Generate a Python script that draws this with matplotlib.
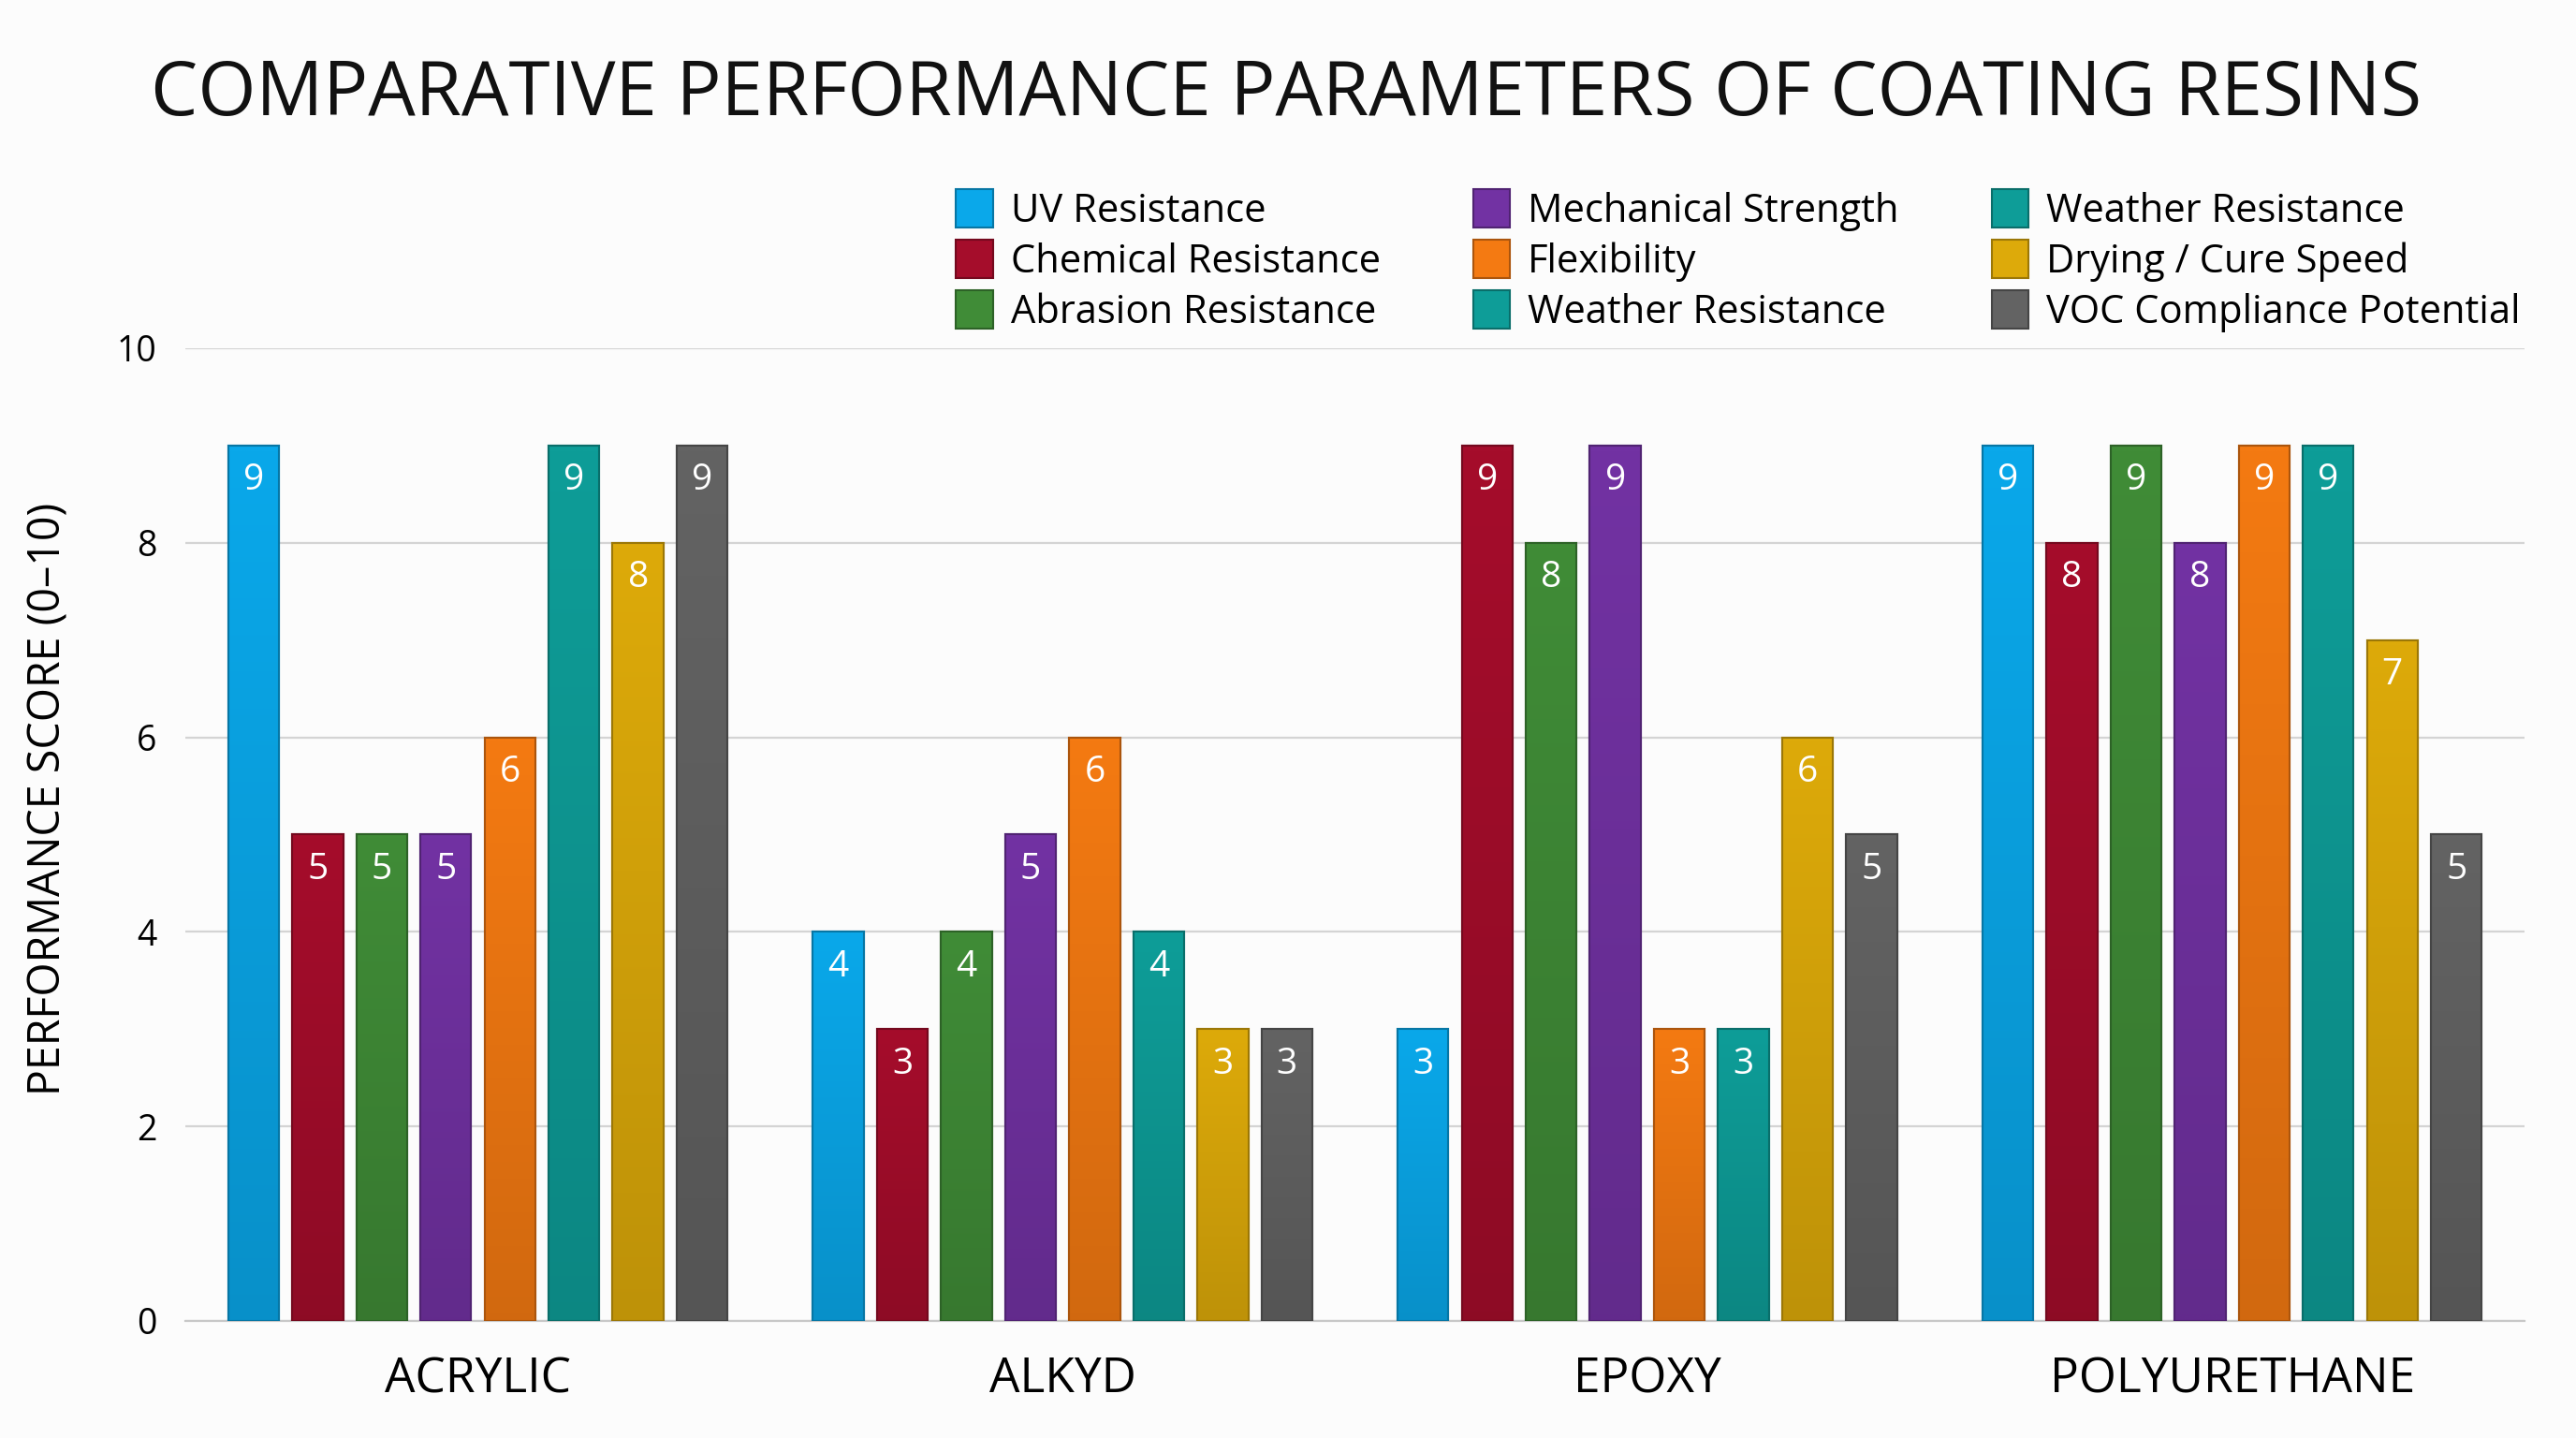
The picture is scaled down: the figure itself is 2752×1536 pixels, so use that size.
import matplotlib
matplotlib.use("Agg")
import matplotlib.pyplot as plt
import matplotlib.colors as mcolors
import numpy as np

plt.rcParams['font.family'] = ['Open Sans', 'DejaVu Sans']

# data
resins = ["ACRYLIC", "ALKYD", "EPOXY", "POLYURETHANE"]
params = ["UV Resistance", "Chemical Resistance", "Abrasion Resistance",
          "Mechanical Strength", "Flexibility", "Weather Resistance",
          "Drying / Cure Speed", "VOC Compliance Potential"]
uv = [9, 4, 3, 9]
chemical = [5, 3, 9, 8]
abrasion = [5, 4, 8, 9]
mechanical = [5, 5, 9, 8]
flexibility = [6, 6, 3, 9]
weather = [9, 4, 3, 9]
drying = [8, 3, 6, 7]
voc = [9, 3, 5, 5]
series = [uv, chemical, abrasion, mechanical, flexibility, weather, drying, voc]
yticks = [0, 2, 4, 6, 8, 10]

colors = ["#0aa8ea", "#a50d2b", "#408c37", "#7232a3",
          "#f47a12", "#0e9d98", "#ddaa0a", "#636363"]

fig = plt.figure(figsize=(27.52, 15.36), dpi=100)
fig.patch.set_facecolor("#fcfcfc")
ax = fig.add_axes([0.072, 0.0814, 0.908, 0.6765])
ax.set_facecolor("#fcfcfc")

x = np.arange(len(resins))
step = 0.1096
width = 0.087
handles = []
for i, (vals, c) in enumerate(zip(series, colors)):
    rgb = np.array(mcolors.to_rgb(c))
    edge = rgb * 0.7
    pos = x + (i - 3.5) * step
    b = ax.bar(pos, vals, width, color=c, edgecolor=edge, linewidth=1.5,
               label=params[i], zorder=3)
    handles.append(b)
    # soft vertical shading, lighter on top
    grad = np.linspace(1.0, 0.86, 64)[:, None, None] * rgb[None, None, :]
    for rect in b.patches:
        x0, y0 = rect.get_x(), rect.get_y()
        w, h = rect.get_width(), rect.get_height()
        im = ax.imshow(grad, extent=[x0, x0 + w, y0, y0 + h], aspect="auto",
                       origin="upper", zorder=3.2, interpolation="bilinear")
        im.set_clip_path(rect)
    ax.bar(pos, vals, width, color="none", edgecolor=edge, linewidth=1.5,
           zorder=3.4)
    for px, v in zip(pos, vals):
        ax.text(px, v - 0.36, str(v), ha="center", va="center",
                color="white", fontsize=28, zorder=4)

ax.set_xlim(-0.5, 3.5)
ax.set_ylim(0, 10)
ax.set_yticks(yticks)
ax.set_xticks(x)
ax.set_xticklabels(resins, fontsize=37)
ax.tick_params(axis="y", labelsize=27, length=0, pad=22)
ax.tick_params(axis="x", length=0, pad=27)
ax.grid(axis="y", color="#d4d4d4", linewidth=1.6, zorder=0)
for s in ["top", "right", "left"]:
    ax.spines[s].set_visible(False)
ax.spines["bottom"].set_color("#c8c8c8")
ax.spines["bottom"].set_linewidth(1.6)
ax.set_ylabel("PERFORMANCE SCORE (0\u201310)", fontsize=33.5)
ax.yaxis.set_label_coords(-0.049, 0.537)

fig.text(0.4993, 0.9335, "COMPARATIVE PERFORMANCE PARAMETERS OF COATING RESINS",
         ha="center", va="center", fontsize=57.5, color="#111111")

# legend shows weather resistance twice, as in the original
leg_handles = handles[:6] + [handles[5]] + handles[6:]
leg_labels = params[:6] + [params[5]] + params[6:]
fig.legend(leg_handles, leg_labels, loc="upper left",
           bbox_to_anchor=(0.3575, 0.893), ncol=3, frameon=False,
           fontsize=30, handlelength=0.95, handleheight=1.15,
           handletextpad=0.45, columnspacing=2.38, labelspacing=0.22)

fig.savefig("out.png", dpi=100, facecolor=fig.get_facecolor())
